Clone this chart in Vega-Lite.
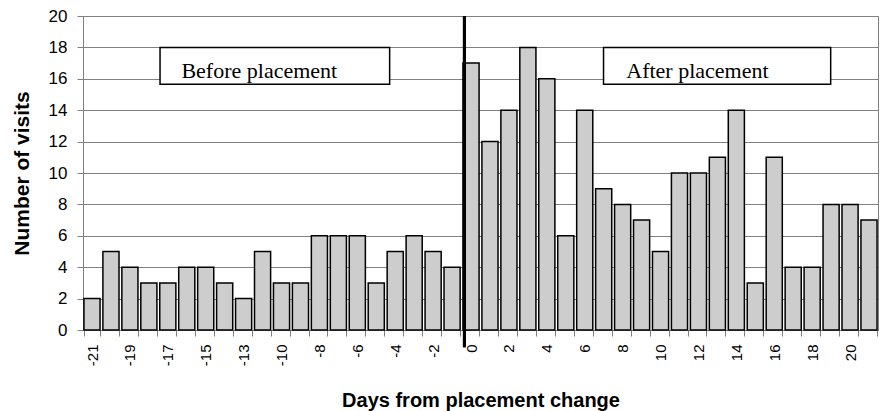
{
  "$schema": "https://vega.github.io/schema/vega-lite/v6.json",
  "width": 795,
  "height": 314,
  "autosize": {"type": "none"},
  "padding": {"left": 83, "top": 16, "right": 2, "bottom": 81},
  "background": "white",
  "config": {
    "view": {"stroke": "#808080", "strokeWidth": 1},
    "font": "Liberation Sans"
  },
  "datasets": {
    "visits": [
      {"day": -21, "visits": 2}, {"day": -20, "visits": 5}, {"day": -19, "visits": 4},
      {"day": -18, "visits": 3}, {"day": -17, "visits": 3}, {"day": -16, "visits": 4},
      {"day": -15, "visits": 4}, {"day": -14, "visits": 3}, {"day": -13, "visits": 2},
      {"day": -11, "visits": 5}, {"day": -10, "visits": 3}, {"day": -9, "visits": 3},
      {"day": -8, "visits": 6}, {"day": -7, "visits": 6}, {"day": -6, "visits": 6},
      {"day": -5, "visits": 3}, {"day": -4, "visits": 5}, {"day": -3, "visits": 6},
      {"day": -2, "visits": 5}, {"day": -1, "visits": 4},
      {"day": 0, "visits": 17}, {"day": 1, "visits": 12}, {"day": 2, "visits": 14},
      {"day": 3, "visits": 18}, {"day": 4, "visits": 16}, {"day": 5, "visits": 6},
      {"day": 6, "visits": 14}, {"day": 7, "visits": 9}, {"day": 8, "visits": 8},
      {"day": 9, "visits": 7}, {"day": 10, "visits": 5}, {"day": 11, "visits": 10},
      {"day": 12, "visits": 10}, {"day": 13, "visits": 11}, {"day": 14, "visits": 14},
      {"day": 15, "visits": 3}, {"day": 16, "visits": 11}, {"day": 17, "visits": 4},
      {"day": 18, "visits": 4}, {"day": 19, "visits": 8}, {"day": 20, "visits": 8},
      {"day": 21, "visits": 7}
    ],
    "boxes": [
      {"label": "Before placement", "x0": 4.07, "x1": 16.2, "tx": 5.2},
      {"label": "After placement", "x0": 27.5, "x1": 39.5, "tx": 28.7}
    ]
  },
  "layer": [
    {
      "data": {"name": "visits"},
      "mark": {"type": "bar", "fill": "#cdcdcd", "stroke": "#000000", "strokeWidth": 1.5},
      "encoding": {
        "x": {
          "field": "day", "type": "ordinal", "sort": "ascending",
          "scale": {"paddingInner": 0.15, "paddingOuter": 0.05},
          "axis": {
            "title": "Days from placement change",
            "titleFont": "Liberation Sans", "titleFontSize": 20, "titleFontWeight": "bold",
            "titleColor": "#000000", "titlePadding": 25,
            "labelAngle": 270, "labelFontSize": 15, "labelColor": "#000000",
            "labelFont": "Liberation Sans", "labelPadding": 8, "labelOverlap": false,
            "labelExpr": "indexof([-21,-19,-17,-15,-13,-10,-8,-6,-4,-2,0,2,4,6,8,10,12,14,16,18,20], datum.value) >= 0 ? datum.label : ''",
            "tickBand": "extent", "tickSize": 6, "tickColor": "#808080",
            "domainColor": "#808080", "grid": false
          }
        },
        "y": {
          "field": "visits", "type": "quantitative",
          "scale": {"domain": [0, 20], "nice": false},
          "axis": {
            "title": "Number of visits",
            "titleFont": "Liberation Sans", "titleFontSize": 21, "titleFontWeight": "bold",
            "titleColor": "#000000", "titlePadding": 16,
            "values": [0, 2, 4, 6, 8, 10, 12, 14, 16, 18, 20],
            "tickCount": 12, "labelOverlap": false,
            "labelFontSize": 17, "labelColor": "#000000", "labelFont": "Liberation Sans",
            "labelPadding": 10, "tickSize": 6, "tickColor": "#808080",
            "domainColor": "#808080", "grid": true, "gridColor": "#808080", "gridWidth": 1
          }
        }
      }
    },
    {
      "data": {"name": "boxes"},
      "layer": [
        {
          "mark": {"type": "rect", "fill": "white", "stroke": "#000000", "strokeWidth": 1.5},
          "encoding": {
            "x": {"field": "x0", "type": "quantitative", "scale": {"domain": [0, 42], "nice": false, "zero": false}, "axis": null},
            "x2": {"field": "x1"},
            "y": {"datum": 15.65, "type": "quantitative"},
            "y2": {"datum": 18.0}
          }
        },
        {
          "mark": {"type": "text", "align": "left", "baseline": "alphabetic", "font": "Liberation Serif", "fontSize": 22, "color": "#000000"},
          "encoding": {
            "x": {"field": "tx", "type": "quantitative"},
            "y": {"datum": 16.05, "type": "quantitative"},
            "text": {"field": "label"}
          }
        },
        {
          "mark": {"type": "rule", "stroke": "#000000", "strokeWidth": 3},
          "encoding": {
            "x": {"datum": 20.15, "type": "quantitative"},
            "y": {"datum": 20, "type": "quantitative"},
            "y2": {"datum": -1.1}
          }
        }
      ]
    }
  ],
  "resolve": {"scale": {"x": "independent"}}
}
